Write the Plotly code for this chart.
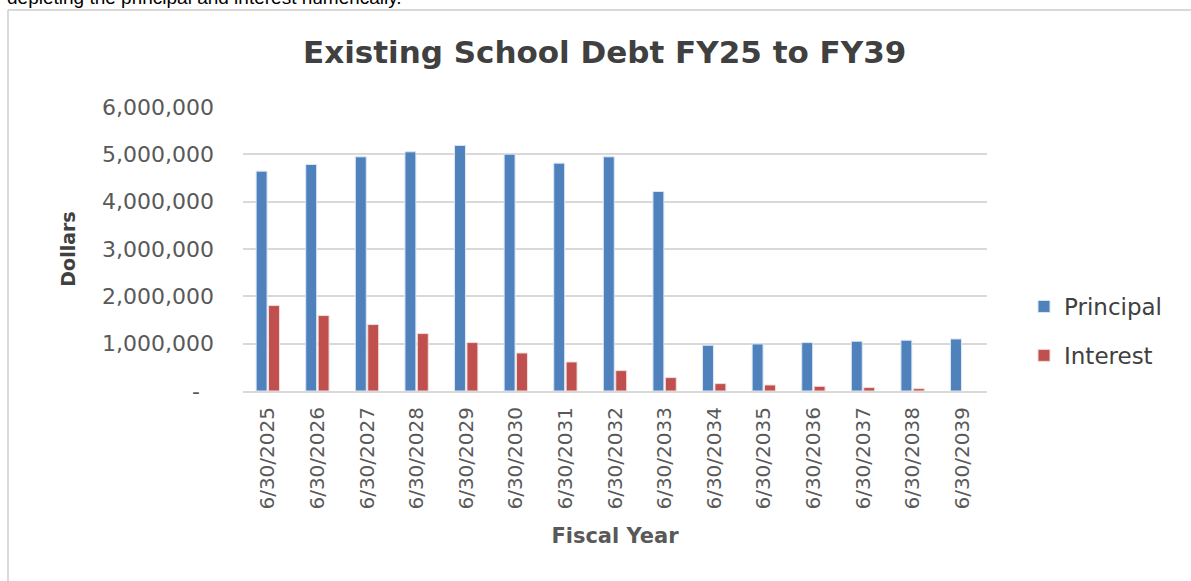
import plotly.graph_objects as go

# Fiscal-year end dates
fiscal_years = [
    "6/30/2025", "6/30/2026", "6/30/2027", "6/30/2028", "6/30/2029",
    "6/30/2030", "6/30/2031", "6/30/2032", "6/30/2033", "6/30/2034",
    "6/30/2035", "6/30/2036", "6/30/2037", "6/30/2038", "6/30/2039",
]

# Scheduled debt service (dollars)
principal = [
    4645000, 4786000, 4947000, 5053000, 5188000,
    5004000, 4814000, 4947000, 4215000, 966000,
    994000, 1023000, 1051000, 1072000, 1099000,
]
interest = [
    1805000, 1594000, 1404000, 1213000, 1023000,
    803000, 613000, 431000, 283000, 156000,
    127000, 99000, 72000, 50000, 0,
]

y_tick_values = [0, 1000000, 2000000, 3000000, 4000000, 5000000, 6000000]
y_tick_labels = ["-\u00a0\u00a0", "1,000,000", "2,000,000", "3,000,000",
                 "4,000,000", "5,000,000", "6,000,000"]

W, H = 1191, 581
L, R, T, B = 243, 204, 107, 190
plot_w = W - L - R
plot_h = H - T - B

FONT = "DejaVu Sans"
GREY = "#595959"

# no outline on zero-height bars
interest_outline = [0 if v == 0 else 1 for v in interest]

fig = go.Figure()
fig.add_trace(go.Bar(
    x=fiscal_years, y=principal, name="Principal", legendgroup="p",
    marker=dict(color="#4F81BD", line=dict(color="#DCE6F2", width=1)),
))
fig.add_trace(go.Bar(
    x=fiscal_years, y=interest, name="Interest", legendgroup="i",
    marker=dict(color="#C0504D", line=dict(color="#F2DCDB", width=interest_outline)),
))


def px_x(x):
    return (x - L) / plot_w


def px_y(y):
    return (H - B - y) / plot_h


fig.update_layout(
    width=W, height=H,
    margin=dict(l=L, r=R, t=T, b=B),
    paper_bgcolor="white", plot_bgcolor="white",
    barmode="group", bargap=0.5, bargroupgap=0.12,
    font=dict(family=FONT, color=GREY),
    showlegend=True,
    legend=dict(
        x=px_x(1024), y=px_y(285), xanchor="left", yanchor="top",
        font=dict(size=23, color="#404040", family=FONT),
        traceorder="grouped", tracegroupgap=16,
        bgcolor="rgba(0,0,0,0)",
    ),
    xaxis=dict(
        tickangle=-90, tickfont=dict(size=20, color=GREY),
        showgrid=False, showline=True, linecolor="#D9D9D9", linewidth=2,
        ticks="", ticklabelstandoff=6,
        title=dict(text="<b>Fiscal Year</b>", font=dict(size=21, color=GREY), standoff=20),
    ),
    yaxis=dict(
        range=[0, 6000000], tickvals=y_tick_values, ticktext=y_tick_labels,
        tickfont=dict(size=22, color=GREY),
        showgrid=True, gridcolor="#D9D9D9", gridwidth=2,
        zeroline=False, showline=False, ticks="", ticklabelstandoff=28,
        title=dict(text="<b>Dollars</b>", font=dict(size=19, color="#404040"), standoff=21),
    ),
    shapes=[
        # outer chart frame
        dict(type="line", xref="paper", yref="paper",
             x0=px_x(8), x1=px_x(8), y0=px_y(10), y1=px_y(600),
             line=dict(color="#D9D9D9", width=2)),
        dict(type="line", xref="paper", yref="paper",
             x0=px_x(8), x1=px_x(1200), y0=px_y(10), y1=px_y(10),
             line=dict(color="#D9D9D9", width=2)),
    ],
    annotations=[
        dict(text="<b>Existing School Debt FY25 to FY39</b>", xref="paper", yref="paper",
             x=px_x(604), y=px_y(52), xanchor="center", yanchor="middle",
             showarrow=False, font=dict(size=31, color="#404040", family=FONT)),
        dict(text="depleting the principal and interest numerically.", xref="paper", yref="paper",
             x=px_x(6), y=px_y(9), xanchor="left", yanchor="bottom", borderpad=0,
             showarrow=False, font=dict(size=19, color="#000000", family="Liberation Sans")),
    ],
)

fig.write_html("out.html")
